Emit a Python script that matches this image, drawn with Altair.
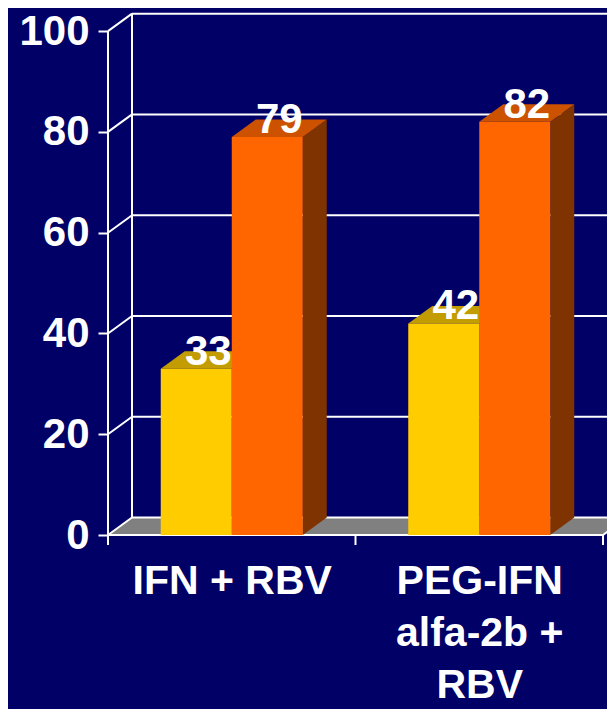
import altair as alt
import pandas as pd

# ---------------- data ----------------
CATEGORIES = ["IFN + RBV", "PEG-IFN|alfa-2b +|RBV"]
SERIES = ["A", "B"]
VALUES_A = [33, 42]
VALUES_B = [79, 82]
Y_TICKS = [0, 20, 40, 60, 80, 100]

# ---------------- style ----------------
BG = "#000066"
FRONT = {"A": "#FFCC00", "B": "#FF6600"}
TOP = {"A": "#C29C00", "B": "#CC5200"}
SIDE = {"A": "#806600", "B": "#7F3300"}
FLOOR = "#808080"
FONT = "Liberation Sans"

W, H = 499, 524
PX_X = 247.5
XMAX = W / PX_X
YMAX = 104
PX_Y = H / YMAX
DX = 24 / PX_X          # depth offset (x units)
DY = 17.5 / PX_Y        # depth offset (y units)
BAR_W = 71 / PX_X
TICK = 10 / PX_Y
N = len(CATEGORIES)

xs = alt.Scale(domain=[0, XMAX], nice=False, zero=False)
ys = alt.Scale(domain=[0, YMAX], nice=False, zero=False)

# ---------------- geometry tables ----------------
bars = []
for i in range(N):
    c = i + 0.5
    for s, vals, xl in (("A", VALUES_A, c - BAR_W), ("B", VALUES_B, c)):
        bars.append(dict(bid=f"{s}{i}", series=s, xl=xl, xr=xl + BAR_W, v=vals[i]))
bars = pd.DataFrame(bars)
bars["y0"] = 0.0
bars["lx"] = (bars.xl + bars.xr) / 2 + DX / 2

sides, tops = [], []
for _, b in bars.iterrows():
    sides.append(dict(bid=b.bid, series=b.series, x=b.xr, lo=0.0, hi=b.v))
    sides.append(dict(bid=b.bid, series=b.series, x=b.xr + DX, lo=DY, hi=b.v + DY))
    tops.append(dict(bid=b.bid, series=b.series, yy=b.v, xa=b.xl, xb=b.xr))
    tops.append(dict(bid=b.bid, series=b.series, yy=b.v + DY, xa=b.xl + DX, xb=b.xr + DX))
sides = pd.DataFrame(sides)
tops = pd.DataFrame(tops)

floor = pd.DataFrame([dict(yy=0.0, xa=0.0, xb=float(N)),
                      dict(yy=DY, xa=DX, xb=N + DX)])

segs = [dict(x1=0, y1=0, x2=0, y2=100),
        dict(x1=DX, y1=DY, x2=DX, y2=100 + DY),
        dict(x1=0, y1=0, x2=N, y2=0),
        dict(x1=N, y1=0, x2=N + DX, y2=DY)]
for v in Y_TICKS:
    segs.append(dict(x1=0, y1=v, x2=DX, y2=v + DY))
    segs.append(dict(x1=DX, y1=v + DY, x2=N + DX, y2=v + DY))
for i in range(N + 1):
    segs.append(dict(x1=i, y1=0, x2=i, y2=-TICK))
segs = pd.DataFrame(segs)

label_expr = "[" + ",".join(f"split('{c}','|')" for c in CATEGORIES) + "][floor(datum.value)]"

# ---------------- layers ----------------
floor_layer = alt.Chart(floor).mark_area(orient="horizontal", color=FLOOR).encode(
    y=alt.Y("yy:Q", scale=ys, title=None,
            axis=alt.Axis(values=Y_TICKS, grid=False, domain=False, tickColor="white",
                          tickSize=10, tickWidth=2, labelColor="white", labelFont=FONT,
                          labelFontSize=42, labelFontWeight="bold", labelPadding=9,
                          labelBaseline="middle")),
    x=alt.X("xa:Q", scale=xs, title=None,
            axis=alt.Axis(values=[i + 0.5 for i in range(N)], labelExpr=label_expr,
                          grid=False, domain=False, ticks=False, labelColor="white",
                          labelFont=FONT, labelFontSize=41, labelFontWeight="bold",
                          labelBaseline="top", labelPadding=26, labelLineHeight=52,
                          labelLimit=400, labelOverlap=False, labelFlush=False)),
    x2="xb:Q",
)

grid_layer = alt.Chart(segs).mark_rule(color="white", strokeWidth=2).encode(
    x=alt.X("x1:Q", scale=xs, title=None), x2="x2:Q",
    y=alt.Y("y1:Q", scale=ys, title=None), y2="y2:Q",
)

layers = [floor_layer, grid_layer]
for s in SERIES:
    layers.append(alt.Chart(sides[sides.series == s]).mark_area(
        orient="vertical", color=SIDE[s]).encode(
        x=alt.X("x:Q", scale=xs, title=None),
        y=alt.Y("lo:Q", scale=ys, title=None), y2="hi:Q", detail="bid:N"))
    layers.append(alt.Chart(tops[tops.series == s]).mark_area(
        orient="horizontal", color=TOP[s]).encode(
        y=alt.Y("yy:Q", scale=ys, title=None),
        x=alt.X("xa:Q", scale=xs, title=None), x2="xb:Q", detail="bid:N"))
    layers.append(alt.Chart(bars[bars.series == s]).mark_rect(color=FRONT[s]).encode(
        x=alt.X("xl:Q", scale=xs, title=None), x2="xr:Q",
        y=alt.Y("y0:Q", scale=ys, title=None), y2="v:Q"))

labels = alt.Chart(bars).mark_text(
    color="white", font=FONT, fontSize=42, fontWeight="bold",
    align="center", baseline="alphabetic", dy=-4).encode(
    x=alt.X("lx:Q", scale=xs, title=None),
    y=alt.Y("v:Q", scale=ys, title=None),
    text="v:Q")
layers.append(labels)

chart = alt.layer(*layers).properties(
    width=W, height=H,
    autosize=alt.AutoSizeParams(type="none"),
    padding={"left": 100, "top": 3, "right": 0, "bottom": 174},
    background=BG,
).configure_view(stroke=None).configure_axis(grid=False, domain=False)

chart.save("out.html", embed_options={"renderer": "svg", "actions": False})
